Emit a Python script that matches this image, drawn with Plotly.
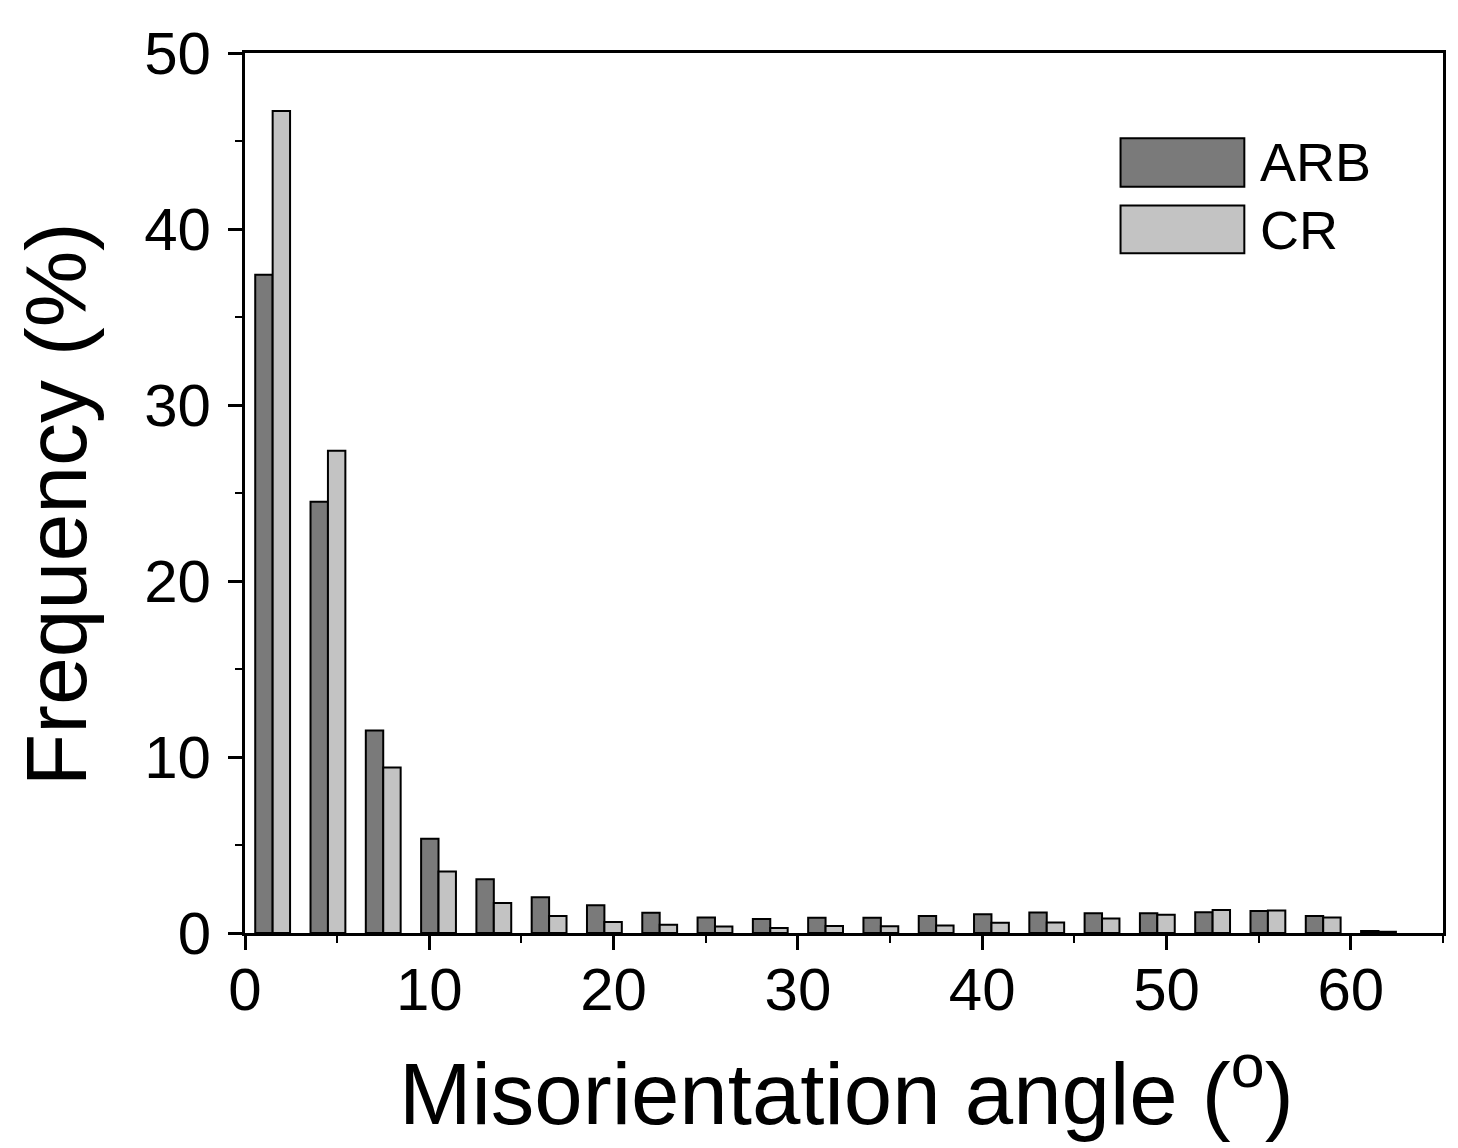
import plotly.graph_objects as go

# Bin centres (misorientation angle, degrees)
angles = [1.5, 4.5, 7.5, 10.5, 13.5, 16.5, 19.5, 22.5, 25.5, 28.5, 31.5,
          34.5, 37.5, 40.5, 43.5, 46.5, 49.5, 52.5, 55.5, 58.5, 61.5]
arb = [37.4, 24.5, 11.5, 5.35, 3.05, 2.03, 1.58, 1.15, 0.88, 0.8, 0.87,
       0.87, 0.97, 1.07, 1.17, 1.12, 1.12, 1.18, 1.25, 0.97, 0.12]
cr = [46.7, 27.4, 9.4, 3.5, 1.7, 0.97, 0.62, 0.47, 0.37, 0.29, 0.4,
      0.38, 0.42, 0.58, 0.6, 0.82, 1.04, 1.3, 1.28, 0.88, 0.07]
series_names = ["ARB", "CR"]
series_colors = ["#7a7a7a", "#c3c3c3"]
x_ticks = [0, 10, 20, 30, 40, 50, 60]
y_ticks = [0, 10, 20, 30, 40, 50]

FONT = "Liberation Sans, Arial, sans-serif"

fig = go.Figure()
for name, vals, col in zip(series_names, [arb, cr], series_colors):
    fig.add_trace(go.Bar(
        x=angles, y=vals, name=name,
        marker=dict(color=col, line=dict(color="black", width=2)),
        showlegend=False,
    ))

# The page body has an 8px margin; positions below are in page pixels
OFF = 8
W, H = 1450, 1140
PL, PR, PT, PB = 245, 1445, 45, 933  # plot area edges in page pixels
L, T = PL - OFF, PT - OFF
R = W - (PR - OFF)
B = H - (PB - OFF)
pw, ph = PR - PL, PB - PT

def px(x):
    return (x - PL) / pw

def py(y):
    return (PB - y) / ph

# Legend drawn as boxes + labels
shapes = []
annotations = []
legend_rows = [(131, 180, 155), (199, 247, 224)]
for (top, bot, mid), name, col in zip(legend_rows, series_names, series_colors):
    shapes.append(dict(type="rect", xref="paper", yref="paper",
                       x0=px(1122), x1=px(1246), y0=py(bot), y1=py(top),
                       fillcolor=col, line=dict(color="black", width=2)))
    annotations.append(dict(text=name, xref="paper", yref="paper",
                            x=px(1260), y=py(mid), xanchor="left", yanchor="middle",
                            showarrow=False, font=dict(family=FONT, size=54, color="black")))

# Axis titles
annotations.append(dict(text="Misorientation angle (<sup>o</sup>)", xref="paper", yref="paper",
                        x=px(848), y=py(1146), xanchor="center", yanchor="bottom",
                        showarrow=False, font=dict(family=FONT, size=87, color="black")))
annotations.append(dict(text="Frequency (%)", xref="paper", yref="paper",
                        x=px(56), y=py(500), xanchor="center", yanchor="middle",
                        textangle=-90, showarrow=False,
                        font=dict(family=FONT, size=86, color="black")))

fig.update_layout(
    width=W, height=H,
    margin=dict(l=L, r=R, t=T, b=B),
    paper_bgcolor="white", plot_bgcolor="white",
    barmode="group", bargap=0.37, bargroupgap=0,
    shapes=shapes, annotations=annotations,
    font=dict(family=FONT, color="black"),
)
fig.update_xaxes(
    range=[0, 65], tickvals=x_ticks, ticktext=[str(v) for v in x_ticks],
    ticks="outside", ticklen=14, tickwidth=2.5, tickcolor="black",
    tickfont=dict(family=FONT, size=60, color="black"),
    ticklabelstandoff=-12,
    minor=dict(tickvals=[5, 15, 25, 35, 45, 55, 65], ticks="outside", ticklen=7,
               tickwidth=2, tickcolor="black"),
    showline=True, linecolor="black", linewidth=3, mirror=True,
    showgrid=False, zeroline=False,
)
fig.update_yaxes(
    range=[0, 50], tickvals=y_ticks, ticktext=[str(v) for v in y_ticks],
    ticks="outside", ticklen=14, tickwidth=2.5, tickcolor="black",
    tickfont=dict(family=FONT, size=60, color="black"),
    ticklabelstandoff=5,
    minor=dict(tickvals=[5, 15, 25, 35, 45], ticks="outside", ticklen=7,
               tickwidth=2, tickcolor="black"),
    showline=True, linecolor="black", linewidth=3, mirror=True,
    showgrid=False, zeroline=False,
)

fig.write_html("out.html")
